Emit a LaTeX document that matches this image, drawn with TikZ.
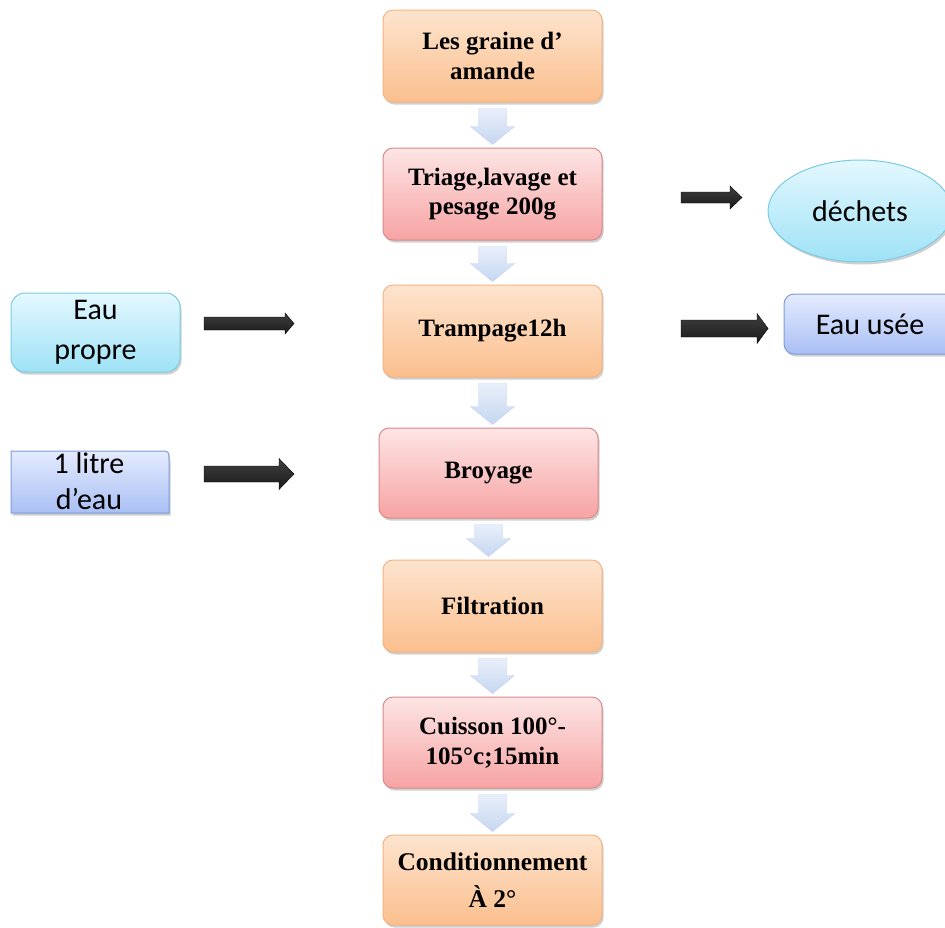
\documentclass[tikz,border=0pt]{standalone}
\usepackage{fontspec}
\setmainfont{Liberation Serif}
\newfontfamily\calfont{Carlito}
\usetikzlibrary{calc,shadows,shapes.geometric}
\definecolor{orTop}{HTML}{FDE4CE}
\definecolor{orBot}{HTML}{FBBF8E}
\definecolor{orLine}{HTML}{F4B381}
\definecolor{pkTop}{HTML}{FDE5E5}
\definecolor{pkBot}{HTML}{F7A3A3}
\definecolor{pkLine}{HTML}{D98A8A}
\definecolor{cyTop}{HTML}{E4F8FE}
\definecolor{cyBot}{HTML}{9EE2F6}
\definecolor{cyLine}{HTML}{7CCBE2}
\definecolor{blTop}{HTML}{E4EBFD}
\definecolor{blBot}{HTML}{A9BFF4}
\definecolor{blLine}{HTML}{7F9BD8}
\definecolor{arTop}{HTML}{E8EFFA}
\definecolor{arBot}{HTML}{C6D7F0}
\tikzset{
  shad/.style={drop shadow={shadow xshift=1.5pt,shadow yshift=-2.5pt,opacity=0.3,fill=black!60}},
  mainbox/.style={shape=rectangle,rounded corners=10pt,minimum width=219pt,inner sep=0pt,
    align=center,line width=1pt,shad,font=\bfseries\fontsize{25}{29.5}\selectfont},
  orbox/.style={mainbox,draw=orLine,top color=orTop,bottom color=orBot},
  pkbox/.style={mainbox,draw=pkLine,top color=pkTop,bottom color=pkBot},
  sidetext/.style={align=center,font=\calfont\fontsize{30}{40}\selectfont},
  flowarr/.style={top color=arTop,bottom color=arBot,draw=arBot!80!blue!60,line width=0.4pt},
  blkarr/.style={top color=black!75,middle color=black,bottom color=black!90,draw=black}
}
\newcommand\flowarrow[2]{%
  \path[flowarr] let \p1=($(#1.south)+(0,6)$), \p2=($(#2.north)+(0,-3)$) in
    (\x1-14pt,\y1) -- (\x1+14pt,\y1) -- (\x1+14pt,\y2+18pt) -- (\x1+22pt,\y2+18pt)
    -- (\x1,\y2) -- (\x1-22pt,\y2+18pt) -- (\x1-14pt,\y2+18pt) -- cycle;}
\newcommand\blkarrow[6]{%
  \path[blkarr] (#1,#3-#4) -- (#2-#6,#3-#4) -- (#2-#6,#3-#5) -- (#2,#3)
    -- (#2-#6,#3+#5) -- (#2-#6,#3+#4) -- (#1,#3+#4) -- cycle;}
\begin{document}
\begin{tikzpicture}[x=1pt,y=-1pt]
\clip (0,0) rectangle (945,927);
\fill[white] (0,0) rectangle (945,927);
% main column
\node[orbox,minimum height=92pt] (b1) at (492.5,56) {Les graine d’\\amande};
\node[pkbox,minimum height=92pt] (b2) at (492.5,194) {Triage,lavage et\\pesage 200g};
\node[orbox,minimum height=92pt] (b3) at (492.5,331) {Trampage12h};
\node[pkbox,minimum height=90pt] (b4) at (488.5,473) {Broyage};
\node[orbox,minimum height=92pt] (b5) at (492.5,606) {Filtration};
\node[pkbox,minimum height=91pt] (b6) at (492.5,742.5) {Cuisson 100°-\\105°c;15min};
\node[orbox,minimum height=90pt,font=\bfseries\fontsize{25.5}{37}\selectfont] (b7) at (492.5,880) {Conditionnement\\À 2°};
\flowarrow{b1}{b2}
\flowarrow{b2}{b3}
\flowarrow{b3}{b4}
\flowarrow{b4}{b5}
\flowarrow{b5}{b6}
\flowarrow{b6}{b7}
% side nodes
\node[ellipse,minimum width=184pt,minimum height=102pt,inner sep=0pt,draw=cyLine,line width=1pt,
  top color=cyTop,bottom color=cyBot,shad,sidetext] (dech) at (860,211) {déchets};
\node[rectangle,rounded corners=10pt,minimum width=172pt,minimum height=60pt,inner sep=0pt,
  draw=blLine,line width=1pt,top color=blTop,bottom color=blBot,shad,sidetext] (usee) at (870,324) {Eau usée};
\node[rectangle,rounded corners=14pt,minimum width=169pt,minimum height=79pt,inner sep=0pt,
  draw=cyLine,line width=1pt,top color=cyTop,bottom color=cyBot,shad,sidetext] (propre) at (95.5,332.5) {Eau\\propre};
\path[draw=blLine,line width=1pt,top color=blTop,bottom color=blBot,shad]
  (11,513) -- (11,451) -- (160,451) .. controls (169,451) .. (169,460) -- (169,513) -- cycle;
\node[sidetext,font=\calfont\fontsize{30}{36}\selectfont] (litre) at (89,481) {1 litre\\d’eau};
% black arrows
\blkarrow{681}{742}{197.5}{5.5}{11.5}{12}
\blkarrow{681}{768}{328.5}{8.5}{15}{11}
\blkarrow{204}{294}{323.5}{6.5}{10.5}{9}
\blkarrow{204}{294}{474}{8}{15.5}{15}
\end{tikzpicture}
\end{document}
